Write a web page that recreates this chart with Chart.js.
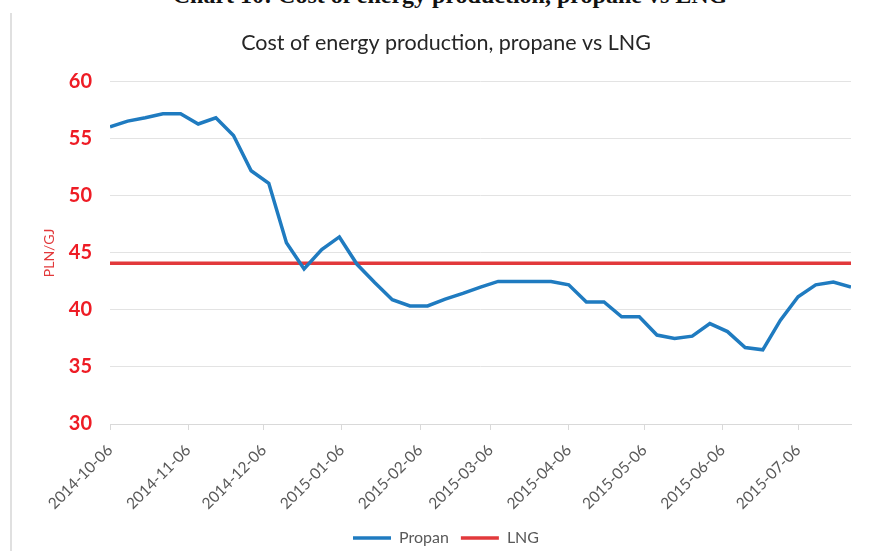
<!DOCTYPE html>
<html>
<head>
<meta charset="utf-8">
<script src="https://cdn.jsdelivr.net/npm/chart.js@4.4.1/dist/chart.umd.min.js"></script>
<style>
  html, body { margin: 0; padding: 0; background: #fff; overflow: hidden; }
  #wrap { position: relative; width: 877px; height: 551px; }
  #header {
    position: absolute; left: 0; width: 900px; top: -17px; text-align: center;
    font-family: "Liberation Serif", serif; font-weight: bold; font-size: 24px;
    line-height: 24px; color: #111; white-space: nowrap;
  }
  #frame { position: absolute; left: 10px; top: 13px; width: 2px; height: 540px; background: #e0e0e0; }
  #graph { position: absolute; left: 0; top: 0; }
</style>
</head>
<body>
<div id="wrap">
  <div id="header">Chart 10: Cost of energy production, propane vs LNG</div>
  <div id="frame"></div>
  <canvas id="graph" width="877" height="551"></canvas>
</div>
<script>
// weekly observations
const dates = [
  "2014-10-06", "2014-10-13", "2014-10-20", "2014-10-27",
  "2014-11-03", "2014-11-10", "2014-11-17", "2014-11-24",
  "2014-12-01", "2014-12-08", "2014-12-15", "2014-12-22", "2014-12-29",
  "2015-01-05", "2015-01-12", "2015-01-19", "2015-01-26",
  "2015-02-02", "2015-02-09", "2015-02-16", "2015-02-23",
  "2015-03-02", "2015-03-09", "2015-03-16", "2015-03-23", "2015-03-30",
  "2015-04-06", "2015-04-13", "2015-04-20", "2015-04-27",
  "2015-05-04", "2015-05-11", "2015-05-18", "2015-05-25",
  "2015-06-01", "2015-06-08", "2015-06-15", "2015-06-22", "2015-06-29",
  "2015-07-06", "2015-07-13", "2015-07-20", "2015-07-27"
];
const propan = [
  56.05, 56.55, 56.85, 57.2,
  57.2, 56.3, 56.85, 55.3,
  52.2, 51.1, 45.9, 43.6, 45.3,
  46.4, 44.0, 42.4, 40.9,
  40.35, 40.35, 40.95, 41.45,
  42.0, 42.5, 42.5, 42.5, 42.5,
  42.2, 40.7, 40.7, 39.4,
  39.4, 37.8, 37.5, 37.7,
  38.8, 38.1, 36.7, 36.5, 39.1,
  41.15, 42.2, 42.45, 42.0
];
const lngDates = ["2014-10-06", "2015-07-27"];
const lng = [44.1, 44.1];

const tickLabels = [
  "2014-10-06", "2014-11-06", "2014-12-06", "2015-01-06", "2015-02-06",
  "2015-03-06", "2015-04-06", "2015-05-06", "2015-06-06", "2015-07-06"
];
const yTicks = [30, 35, 40, 45, 50, 55, 60];

// day offset from first date, used for the linear x scale
const start = Date.parse(dates[0]);
function dayOf(d) {
  return Math.round((Date.parse(d) - start) / 864e5);
}
const tickDays = tickLabels.map(dayOf);

const blue = "#1f7bc0";
const red = "#e2393b";
const grey = "#595959";

new Chart(document.getElementById("graph").getContext("2d"), {
  type: "line",
  data: {
    datasets: [
      {
        label: "Propan",
        data: dates.map((d, i) => ({ x: dayOf(d), y: propan[i] })),
        borderColor: blue,
        backgroundColor: blue,
        borderWidth: 3.5,
        pointRadius: 0,
        tension: 0,
      },
      {
        label: "LNG",
        data: lngDates.map((d, i) => ({ x: dayOf(d), y: lng[i] })),
        borderColor: red,
        backgroundColor: red,
        borderWidth: 3.5,
        pointRadius: 0,
      },
    ],
  },
  options: {
    responsive: false,
    animation: false,
    layout: { padding: { left: 41, right: 26, top: 0, bottom: -5 } },
    plugins: {
      title: {
        display: true,
        text: "Cost of energy production, propane vs LNG",
        color: "#262626",
        font: { family: "Lato", size: 21.5, weight: "normal" },
        padding: { top: 30, bottom: 26 },
      },
      legend: {
        position: "bottom",
        labels: {
          color: grey,
          font: { family: "Lato", size: 16 },
          usePointStyle: true,
          pointStyle: "line",
          pointStyleWidth: 38,
          boxHeight: 3,
          padding: 12,
        },
      },
      tooltip: { enabled: false },
    },
    scales: {
      x: {
        type: "linear",
        min: 0,
        max: dayOf(dates[dates.length - 1]),
        afterBuildTicks: (scale) => {
          scale.ticks = tickDays.map((v) => ({ value: v }));
        },
        afterFit: (scale) => {
          scale.height = 94;
        },
        ticks: {
          color: grey,
          font: { family: "Lato", size: 15.5 },
          minRotation: 45,
          maxRotation: 45,
          padding: 11,
          callback: (v) => tickLabels[tickDays.indexOf(v)],
        },
        grid: {
          drawOnChartArea: false,
          drawTicks: true,
          tickLength: 6,
          color: "#d9d9d9",
        },
        border: { display: true, color: "#d9d9d9" },
      },
      y: {
        min: 30,
        max: 60,
        afterBuildTicks: (scale) => {
          scale.ticks = yTicks.map((v) => ({ value: v }));
        },
        afterFit: (scale) => {
          scale.width = 69;
        },
        title: {
          display: true,
          text: "PLN/GJ",
          color: red,
          font: { family: "Lato", size: 14 },
          padding: 0,
        },
        ticks: {
          color: "#ee1c25",
          font: { family: "Lato", size: 20, weight: "bold" },
          padding: 18,
        },
        grid: { color: "#e3e3e3", drawTicks: false },
        border: { display: false },
      },
    },
  },
});
</script>
</body>
</html>
